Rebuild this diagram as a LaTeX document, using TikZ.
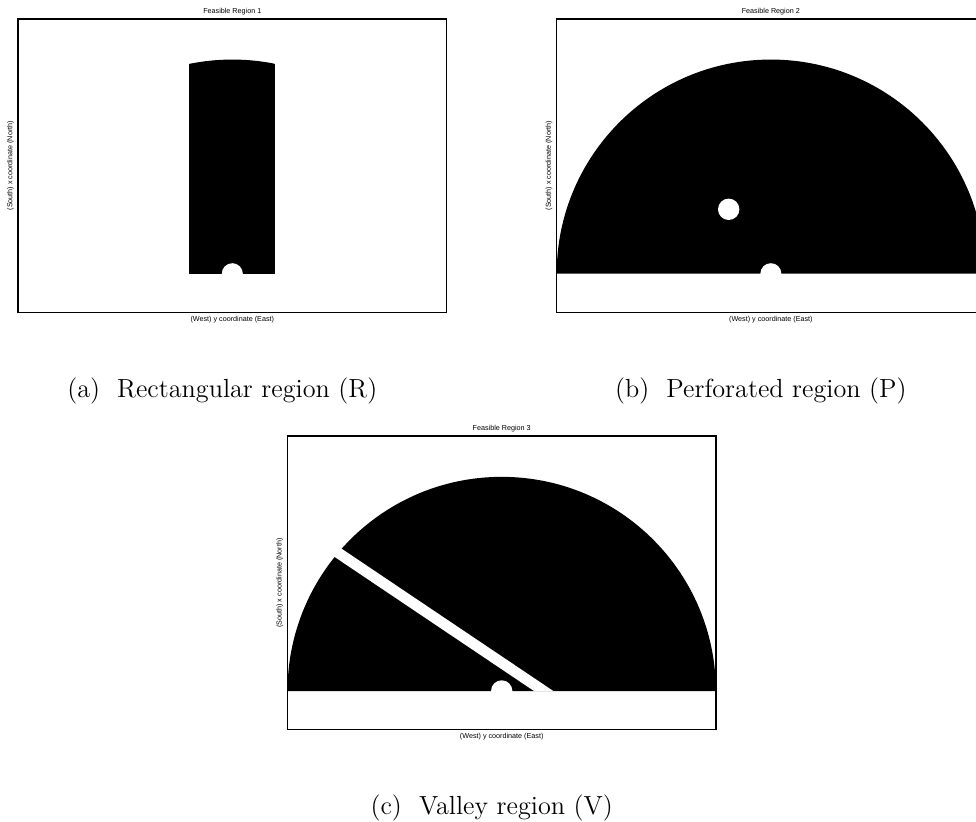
\documentclass[tikz,border=0pt]{standalone}
\usepackage{fontspec}
\newfontfamily\plotfont{Liberation Sans}

\begin{document}
\begin{tikzpicture}[x=0.5pt, y=0.5pt,
    plotframe/.style={draw=black, line width=0.7pt},
    plottext/.style={font=\plotfont\fontsize{3.6}{4}\selectfont, inner sep=0pt},
    subcap/.style={font=\fontsize{13.1}{16}\selectfont, anchor=base, inner sep=0pt}]

    \clip (0,0) rectangle (976,821);

\begin{scope}[shift={(232.3,547.3)}]

    % Rectangular region cut by the disc
    \begin{scope}
        \clip (0,0) circle[radius=214.15];
        \fill[black] (-43,0) rectangle (43,230);
    \end{scope}
    \fill[white] (0,0) circle[radius=10.5];

    % frame and labels
    \draw[plotframe] (-214.15,-38.7) rectangle (214.15,254.8);
    \node[plottext] (title1) at (0,262.1) {Feasible Region 1};
    \node[plottext] (xlab1) at (0,-45.5) {(West) y coordinate (East)};
    \node[plottext, rotate=90] (ylab1) at (-221.9,108) {(South) x coordinate (North)};
    \node[subcap] (cap1) at (-10,-123.5) {(a)\ \ Rectangular region (R)};

\end{scope}
\begin{scope}[shift={(770.85,547.3)}]

    % Half disc with two holes
    \fill[black] (-214.15,0) arc[start angle=180, end angle=0, radius=214.15] -- cycle;
    \fill[white] (0,0) circle[radius=10.5];
    \fill[white] (-42.15,64.4) circle[radius=10.7];

    % frame and labels
    \draw[plotframe] (-214.15,-38.7) rectangle (214.15,254.8);
    \node[plottext] (title2) at (0,262.1) {Feasible Region 2};
    \node[plottext] (xlab2) at (0,-45.5) {(West) y coordinate (East)};
    \node[plottext, rotate=90] (ylab2) at (-221.9,108) {(South) x coordinate (North)};
    \node[subcap] (cap2) at (-10,-123.5) {(b)\ \ Perforated region (P)};

\end{scope}
\begin{scope}[shift={(501.7,130)}]

    % Half disc split by the valley
    \fill[black] (-214.15,0) arc[start angle=180, end angle=0, radius=214.15] -- cycle;
    \fill[white] (32.3,0) -- (51.6,0) -- (-197.4,167.4) -- (-216.7,167.4) -- cycle;
    \fill[white] (0,0) circle[radius=10.7];

    % frame and labels
    \draw[plotframe] (-214.15,-38.7) rectangle (214.15,254.8);
    \node[plottext] (title3) at (0,262.1) {Feasible Region 3};
    \node[plottext] (xlab3) at (0,-45.5) {(West) y coordinate (East)};
    \node[plottext, rotate=90] (ylab3) at (-221.9,108) {(South) x coordinate (North)};
    \node[subcap] (cap3) at (-10,-123.5) {(c)\ \ Valley region (V)};

\end{scope}
\end{tikzpicture}
\end{document}
